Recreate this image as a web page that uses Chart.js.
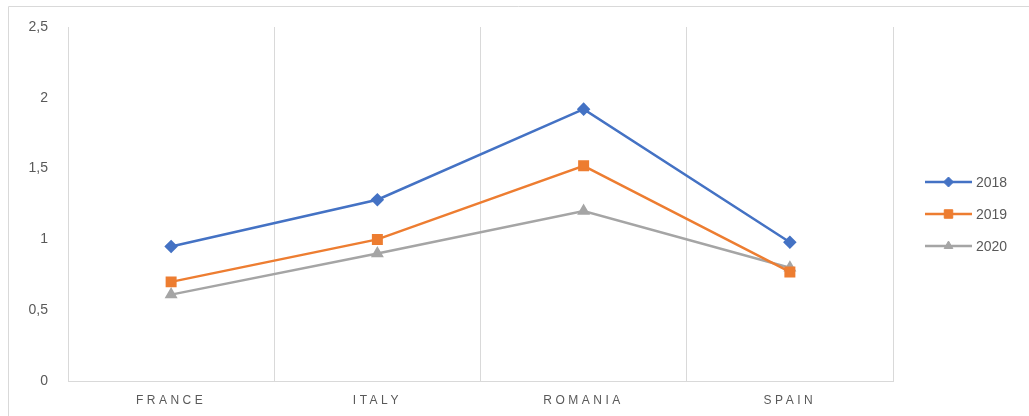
<!DOCTYPE html>
<html>
<head>
<meta charset="utf-8">
<script src="https://cdn.jsdelivr.net/npm/chart.js@4/dist/chart.umd.min.js"></script>
<style>
  html, body { margin: 0; padding: 0; background: #fff; }
  #wrap { width: 1029px; height: 416px; position: relative; }
</style>
</head>
<body>
<div id="wrap"><canvas id="chart" width="1029" height="416"></canvas></div>
<script>
const countries = ['FRANCE', 'ITALY', 'ROMANIA', 'SPAIN'];
const values2018 = [0.95, 1.28, 1.92, 0.98];
const values2019 = [0.70, 1.00, 1.52, 0.77];
const values2020 = [0.61, 0.90, 1.20, 0.80];
const yTicks = [0, 0.5, 1, 1.5, 2, 2.5];

const textColor = '#595959';
const gridColor = '#d9d9d9';

// frame around the whole chart + legend on the right with line and marker
const framePlugin = {
  id: 'frame',
  beforeDraw(chart) {
    const ctx = chart.ctx;
    ctx.save();
    ctx.strokeStyle = gridColor;
    ctx.lineWidth = 1;
    ctx.beginPath();
    ctx.moveTo(8.5, 416);
    ctx.lineTo(8.5, 6.5);
    ctx.lineTo(1029, 6.5);
    ctx.stroke();
    ctx.restore();
  },
  afterLayout(chart) {
    const xs = chart.scales.x;
    if (!xs._spaced) {
      xs._spaced = true;
      xs.drawLabels = function (area) {
        this.ctx.save();
        this.ctx.letterSpacing = '3.5px';
        Object.getPrototypeOf(this).drawLabels.call(this, area);
        this.ctx.restore();
      };
    }
  },
  afterDraw(chart) {
    const ctx = chart.ctx;
    const x0 = 925, x1 = 972;
    chart.data.datasets.forEach((ds, i) => {
      const y = 182 + i * 32;
      ctx.save();
      ctx.strokeStyle = ds.borderColor;
      ctx.fillStyle = ds.borderColor;
      ctx.lineWidth = ds.borderWidth;
      ctx.beginPath();
      ctx.moveTo(x0, y);
      ctx.lineTo(x1, y);
      ctx.stroke();
      ctx.lineWidth = 1;
      Chart.helpers.drawPoint(ctx, {
        pointStyle: ds.pointStyle,
        radius: ds.pointRadius,
        borderWidth: 1
      }, (x0 + x1) / 2, y);
      ctx.fillStyle = textColor;
      ctx.font = '14px "Liberation Sans", Arial, sans-serif';
      ctx.textBaseline = 'middle';
      ctx.fillText(ds.label, x1 + 4, y + 1);
      ctx.restore();
    });
  }
};

function series(label, data, color, style, radius) {
  return {
    label: label,
    data: data,
    borderColor: color,
    backgroundColor: color,
    pointBackgroundColor: color,
    pointBorderColor: color,
    borderWidth: 2.5,
    pointStyle: style,
    pointRadius: radius,
    pointHoverRadius: radius,
    tension: 0
  };
}

new Chart(document.getElementById('chart'), {
  type: 'line',
  data: {
    labels: countries,
    datasets: [
      series('2018', values2018, '#4472C4', 'rectRot', 5),
      series('2019', values2019, '#ED7D31', 'rect', 6),
      series('2020', values2020, '#A5A5A5', 'triangle', 5)
    ]
  },
  options: {
    responsive: false,
    animation: false,
    layout: { padding: { top: 27, right: 136, left: 0, bottom: 0 } },
    plugins: {
      legend: { display: false },
      tooltip: { enabled: false }
    },
    scales: {
      x: {
        offset: true,
        grid: { display: true, offset: true, color: gridColor, lineWidth: 1, drawTicks: false },
        border: { display: true, color: gridColor, width: 1 },
        ticks: {
          color: textColor,
          padding: 12,
          font: { size: 12, family: '"Liberation Sans", Arial, sans-serif' }
        },
        afterFit(scale) { scale.height = 35; }
      },
      y: {
        min: 0,
        max: 2.5,
        afterBuildTicks(scale) { scale.ticks = yTicks.map(v => ({ value: v })); },
        grid: { display: false },
        border: { display: false },
        ticks: {
          color: textColor,
          padding: 12,
          font: { size: 14, family: '"Liberation Sans", Arial, sans-serif' },
          callback: v => String(v).replace('.', ',')
        },
        afterFit(scale) { scale.width = 68; }
      }
    }
  },
  plugins: [framePlugin]
});
</script>
</body>
</html>
